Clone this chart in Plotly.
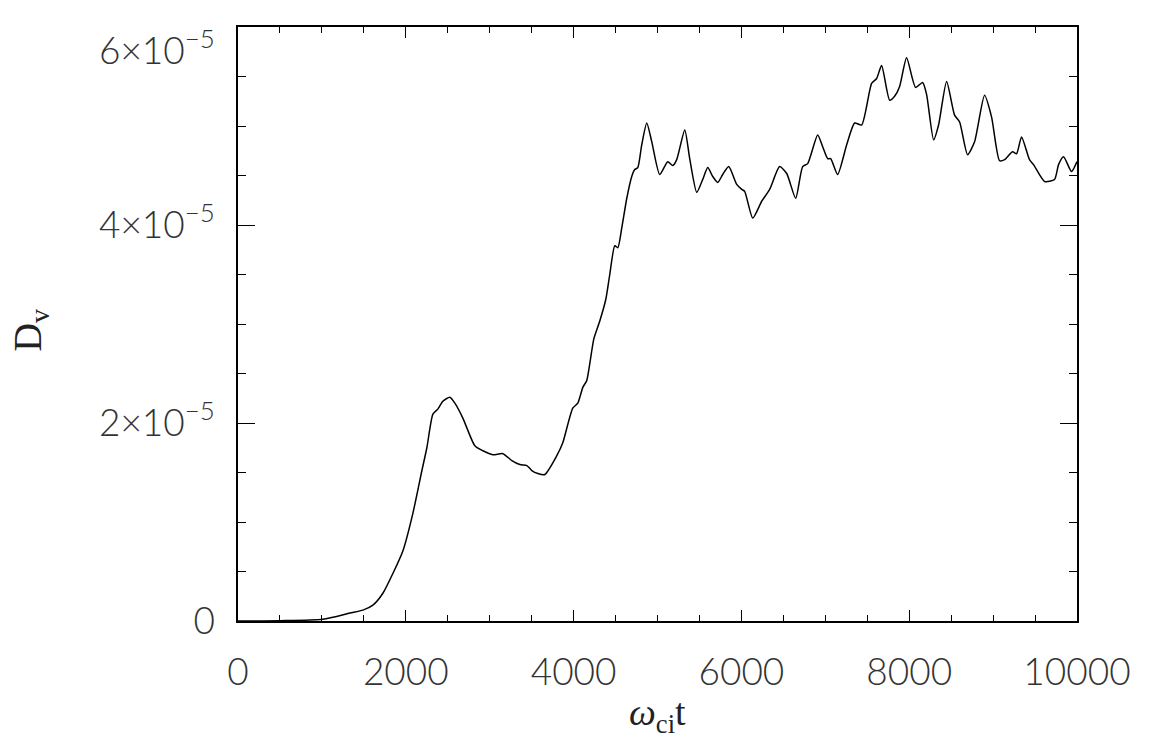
import plotly.graph_objects as go

# time (omega_ci t) and D_v (units of 1e-5)
t = [0, 500, 1012, 1334, 1489, 1608, 1727, 1846, 1966, 2085, 2192, 2251, 2323, 2382, 2442,
     2525, 2585, 2680, 2823, 2918, 3038, 3157, 3264, 3359, 3443, 3502, 3574, 3657, 3800,
     3871, 3990, 4050, 4110, 4157, 4241, 4312, 4384, 4431, 4491, 4527, 4574, 4634, 4693,
     4729, 4765, 4812, 4872, 4932, 5027, 5122, 5182, 5229, 5325, 5384, 5468, 5539, 5599,
     5658, 5718, 5777, 5849, 5944, 6004, 6039, 6135, 6242, 6337, 6456, 6540, 6647, 6730,
     6790, 6909, 6969, 7028, 7064, 7147, 7255, 7350, 7433, 7552, 7612, 7671, 7767, 7826,
     7886, 7969, 8076, 8160, 8207, 8291, 8350, 8446, 8541, 8601, 8696, 8779, 8898, 8982,
     9077, 9137, 9232, 9280, 9339, 9434, 9482, 9613, 9732, 9780, 9840, 9935, 10000]
dv_e5 = [0, 0.003, 0.017, 0.08, 0.11, 0.16, 0.28, 0.48, 0.71, 1.09, 1.52, 1.75, 2.09, 2.14, 2.22,
         2.26, 2.20, 2.05, 1.77, 1.72, 1.68, 1.69, 1.62, 1.58, 1.57, 1.52, 1.49, 1.48, 1.67,
         1.80, 2.15, 2.20, 2.36, 2.43, 2.85, 3.03, 3.25, 3.50, 3.79, 3.77, 3.97, 4.27, 4.49,
         4.56, 4.58, 4.81, 5.03, 4.84, 4.51, 4.64, 4.60, 4.66, 4.96, 4.67, 4.33, 4.46, 4.58,
         4.49, 4.43, 4.51, 4.59, 4.41, 4.36, 4.34, 4.07, 4.24, 4.36, 4.59, 4.52, 4.27, 4.59,
         4.62, 4.91, 4.79, 4.67, 4.67, 4.51, 4.81, 5.03, 5.01, 5.43, 5.48, 5.61, 5.26, 5.30,
         5.40, 5.69, 5.39, 5.44, 5.32, 4.86, 5.01, 5.45, 5.11, 5.04, 4.71, 4.84, 5.31, 5.09,
         4.65, 4.66, 4.74, 4.72, 4.89, 4.66, 4.61, 4.44, 4.46, 4.61, 4.69, 4.54, 4.64]

# y axis in units of 1e-5
y_tickvals = [0, 2, 4, 6]
y_ticktext = ["0", "2×10<sup>−5</sup>", "4×10<sup>−5</sup>", " <br>6×10<sup>−5</sup>"]
y_minor = [i * 0.5 for i in range(13)]
x_tickvals = [0, 2000, 4000, 6000, 8000, 10000]
x_ticktext = ["0", "2000", "4000", "6000", "8000", "10000"]
x_minor = [i * 500 for i in range(21)]

fig = go.Figure()
fig.add_trace(go.Scatter(x=t, y=dv_e5, mode="lines",
                         line=dict(color="black", width=1.5, shape="spline", smoothing=0.6),
                         showlegend=False, hoverinfo="skip"))

tickfont = dict(family="Lato", size=37, color="#333333", weight=300)

fig.update_layout(
    width=1158, height=743,
    margin=dict(l=238, r=81, t=27, b=122),
    paper_bgcolor="white", plot_bgcolor="white",
    xaxis=dict(range=[0, 10000], tickmode="array", tickvals=x_tickvals, ticktext=x_ticktext,
               ticks="inside", ticklen=11, tickwidth=1.3, tickcolor="black",
               minor=dict(tickmode="array", tickvals=x_minor, ticks="inside", ticklen=6,
                          tickwidth=1.3, tickcolor="black", showgrid=False),
               showline=True, linecolor="black", linewidth=1.5, mirror="ticks",
               showgrid=False, zeroline=False, tickfont=tickfont, ticklabelstandoff=18,
               automargin=False),
    yaxis=dict(range=[0, 6], tickmode="array", tickvals=y_tickvals, ticktext=y_ticktext,
               ticks="inside", ticklen=17, tickwidth=1.3, tickcolor="black",
               minor=dict(tickmode="array", tickvals=y_minor, ticks="inside", ticklen=8,
                          tickwidth=1.3, tickcolor="black", showgrid=False),
               showline=True, linecolor="black", linewidth=1.5, mirror="ticks",
               showgrid=False, zeroline=False, tickfont=tickfont, ticklabelstandoff=14,
               ticklabeloverflow="allow", automargin=False),
    annotations=[
        dict(text="<i>ω</i><sub>ci</sub>t", xref="paper", yref="paper",
             x=0.5, y=-0.158, xanchor="center", yanchor="middle", showarrow=False,
             font=dict(family="Liberation Serif", size=38, color="#222222")),
        dict(text="D<sub>v</sub>", xref="paper", yref="paper",
             x=-0.248, y=0.49, xanchor="center", yanchor="middle", showarrow=False,
             textangle=-90, font=dict(family="Liberation Serif", size=40, color="#222222")),
    ],
)

fig.write_html("out.html")
